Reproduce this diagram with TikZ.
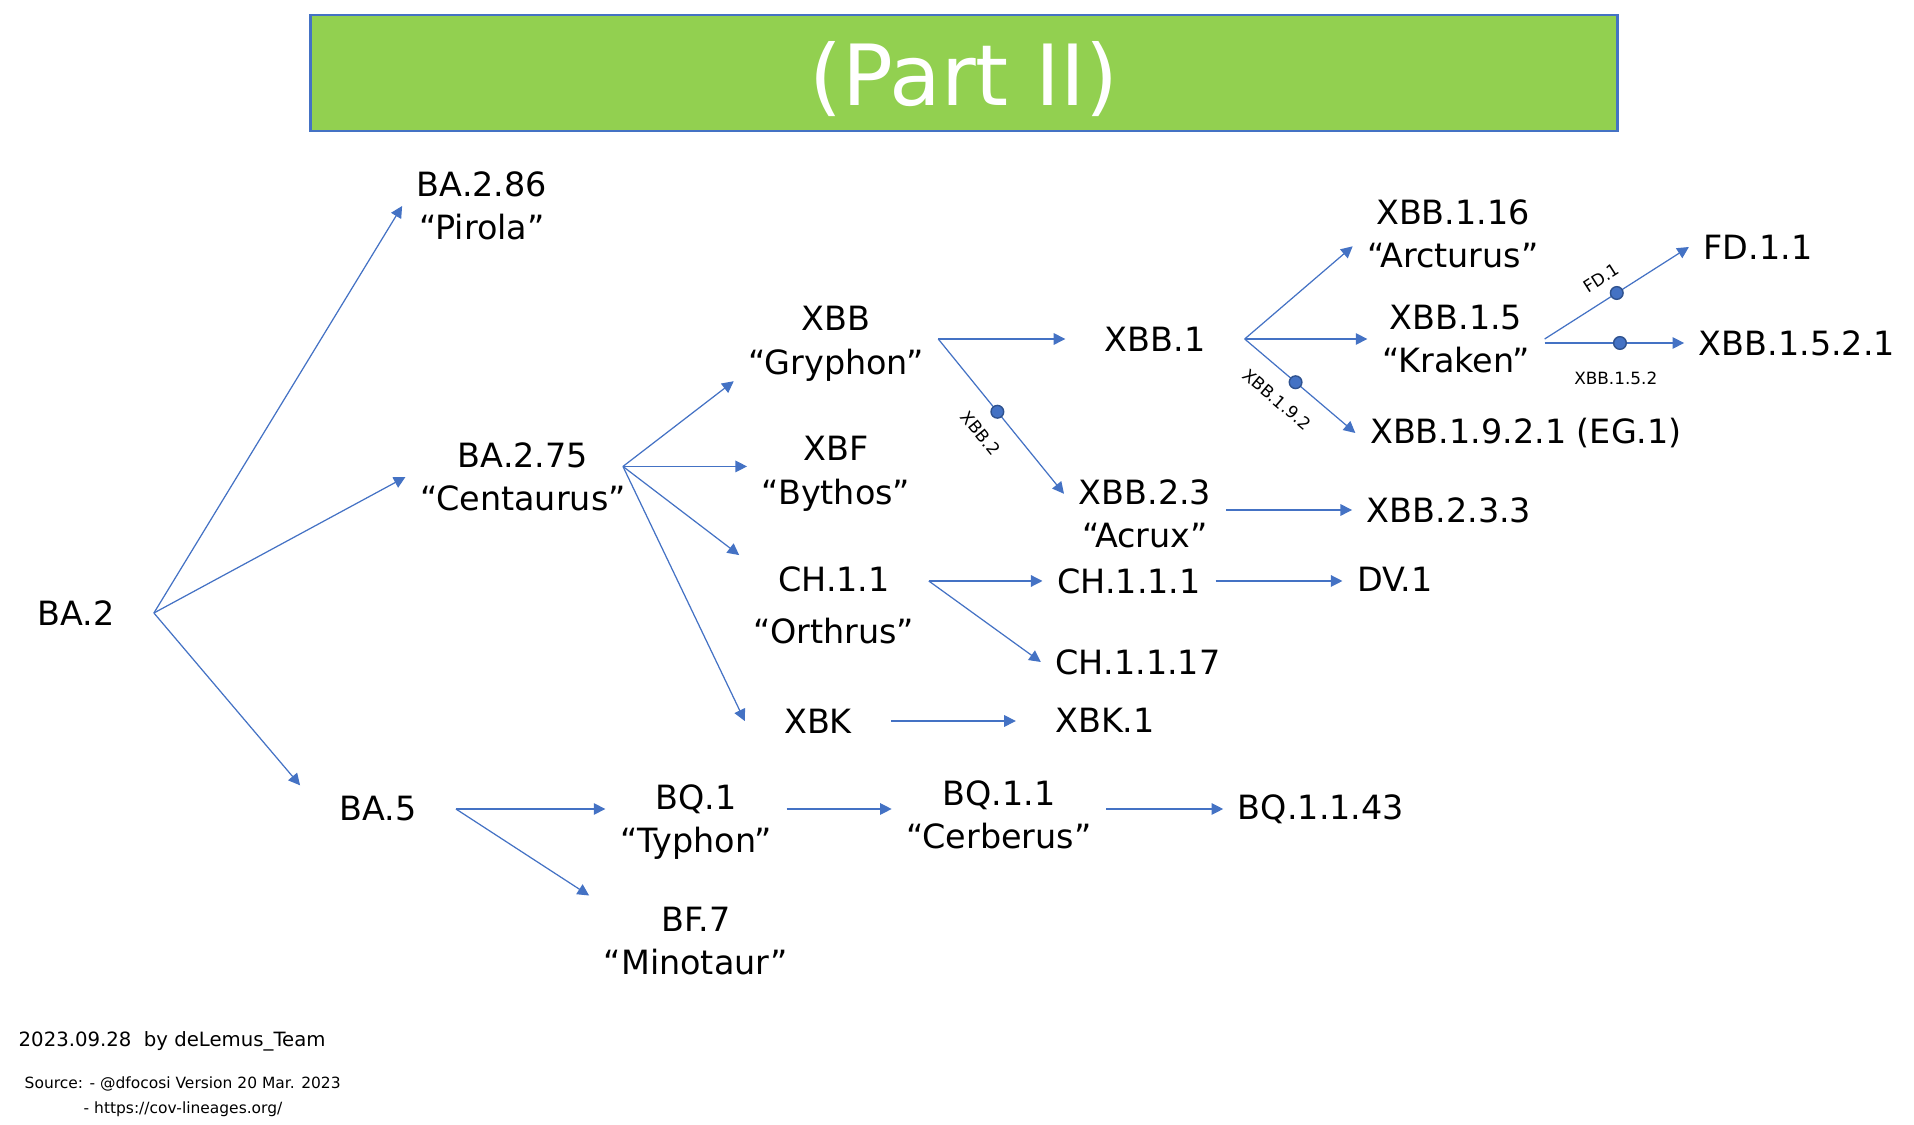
\documentclass[tikz,border=0pt]{standalone}
\usepackage{fontspec}
\setmainfont{DejaVu Sans}
\usetikzlibrary{positioning}
\usetikzlibrary{calc}
\usetikzlibrary{arrows.meta}
\definecolor{linkblue}{RGB}{68,114,196}
\definecolor{dotedge}{RGB}{47,82,143}
\definecolor{titlegreen}{RGB}{146,208,80}

\begin{document}
\begin{tikzpicture}[x=0.01cm, y=-0.01cm,
    every node/.style={font=\fontsize{9.5}{12.4}\selectfont},
    lineage/.style={align=center, inner xsep=4pt, inner ysep=3pt},
    wide/.style={lineage, inner xsep=11pt},
    link/.style={linkblue, line width=0.35pt, -{Triangle[length=3.3pt, width=3.3pt]}},
    dot/.style={circle, fill=linkblue, draw=dotedge, line width=0.4pt, minimum size=3.6pt, inner sep=0pt},
    tag/.style={text=black, font=\fontsize{4.8}{5}\selectfont, inner sep=1pt},
    note/.style={anchor=west, inner sep=0pt}]
    \useasboundingbox (0,0) rectangle (1914,1125);

    % title bar
    \node[draw=linkblue, line width=0.8pt, fill=titlegreen, minimum width=13.06cm, minimum height=1.16cm,
          text=white, text depth=0pt, font=\fontsize{24}{26}\selectfont] (title) at (964,73) {(Part II)};

    % lineages
    \node[wide] (ba2) at (76,613) {BA.2};
    \node[lineage] (ba286) at (482,206) {BA.2.86\\“Pirola”};
    \node[lineage] (ba275) at (523,477) {BA.2.75\\“Centaurus”};
    \node[wide] (ba5) at (378,809) {BA.5};
    \node[lineage] (xbb) at (836,344) {XBB\\“Gryphon”};
    \node[lineage] (xbf) at (836,474) {XBF\\“Bythos”};
    \node[lineage] (ch11) at (834,605) {CH.1.1\\[2.4pt]“Orthrus”};
    \node[wide] (xbk) at (818,721) {XBK};
    \node[wide] (xbb1) at (1155,339) {XBB.1};
    \node[lineage] (xbb23) at (1145,514) {XBB.2.3\\“Acrux”};
    \node[lineage] (ch111) at (1129,581) {CH.1.1.1};
    \node[lineage] (ch1117) at (1138,662) {CH.1.1.17};
    \node[wide] (xbk1) at (1105,720) {XBK.1};
    \node[lineage] (xbb116) at (1453,234) {XBB.1.16\\“Arcturus”};
    \node[lineage] (xbb15) at (1456,339) {XBB.1.5\\“Kraken”};
    \node[lineage] (xbb1921) at (1526,433) {XBB.1.9.2.1 (EG.1)};
    \node[lineage] (xbb233) at (1449,510) {XBB.2.3.3};
    \node[lineage] (dv1) at (1395,579) {DV.1};
    \node[lineage] (fd11) at (1758,247) {FD.1.1};
    \node[lineage] (xbb1521) at (1797,343) {XBB.1.5.2.1};
    \node[lineage] (bq1) at (696,822) {BQ.1\\“Typhon”};
    \node[lineage] (bf7) at (696,941) {BF.7\\“Minotaur”};
    \node[lineage] (bq11) at (999,815) {BQ.1.1\\“Cerberus”};
    \node[lineage] (bq1143) at (1321,809) {BQ.1.1.43};

    % branches
    \coordinate (ba2 fork) at (ba2.east);
    \foreach \t in {ba286.west, ba275.west, ba5.north west}
        \draw[link] (ba2 fork) -- (\t);

    \coordinate (ba275 fork) at ([xshift=-5pt, yshift=3pt]ba275.east);
    \foreach \t in {xbb.200, ch11.north west, xbk.west}
        \draw[link] (ba275 fork) -- (\t);
    \draw[link] (ba275 fork) -- (ba275 fork -| xbf.west);

    \coordinate (xbb fork) at (xbb.east |- xbb1.west);
    \draw[link] (xbb fork) -- (xbb1.west);
    \draw[link] (xbb fork) -- node[dot, pos=0.47] {} node[tag, sloped, below=4.5pt, pos=0.5] {XBB.2} (xbb23.166);

    \coordinate (ch11 fork) at (ch11.east |- ch111.west);
    \draw[link] (ch11 fork) -- (ch111.west);
    \draw[link] (ch11 fork) -- (ch1117.west);
    \draw[link] (xbk.east) -- (xbk.east -| xbk1.west);

    \coordinate (xbb1 fork) at (xbb1.east);
    \draw[link] (xbb1 fork) -- (xbb116.187);
    \draw[link] (xbb1 fork) -- (xbb15.west);
    \draw[link] (xbb1 fork) -- node[dot, pos=0.46] {} node[tag, sloped, below=4.2pt, pos=0.44] {XBB.1.9.2} (xbb1921.west);

    \draw[link] (xbb23.east |- xbb233.west) -- (xbb233.west);
    \draw[link] (ch111.east) -- (ch111.east -| dv1.west);

    \draw[link] (xbb15.east) -- node[dot, pos=0.5] {} node[tag, sloped, above=3pt, pos=0.47] {FD.1} (fd11.west);
    \draw[link] (xbb15.east |- xbb1521.west) -- node[dot, pos=0.54] {} node[tag, below=7pt, pos=0.51] {XBB.1.5.2} (xbb1521.west);

    \draw[link] (ba5.east) -- (ba5.east -| bq1.west);
    \draw[link] (ba5.east) -- (bf7.north west);
    \draw[link] (bq1.east |- bq1143.west) -- (bq11.west |- bq1143.west);
    \draw[link] (bq11.east |- bq1143.west) -- (bq1143.west);

    % footer
    \node[note, font=\fontsize{5.6}{6}\selectfont] (date) at (18,1041) {2023.09.28\ \ by deLemus\_Team};
    \node[note, font=\fontsize{4.4}{5}\selectfont] (source) at (24,1084) {Source: - @dfocosi Version 20 Mar. 2023};
    \node[note, font=\fontsize{4.4}{5}\selectfont] (url) at (83,1109) {- https://cov-lineages.org/};
\end{tikzpicture}
\end{document}
